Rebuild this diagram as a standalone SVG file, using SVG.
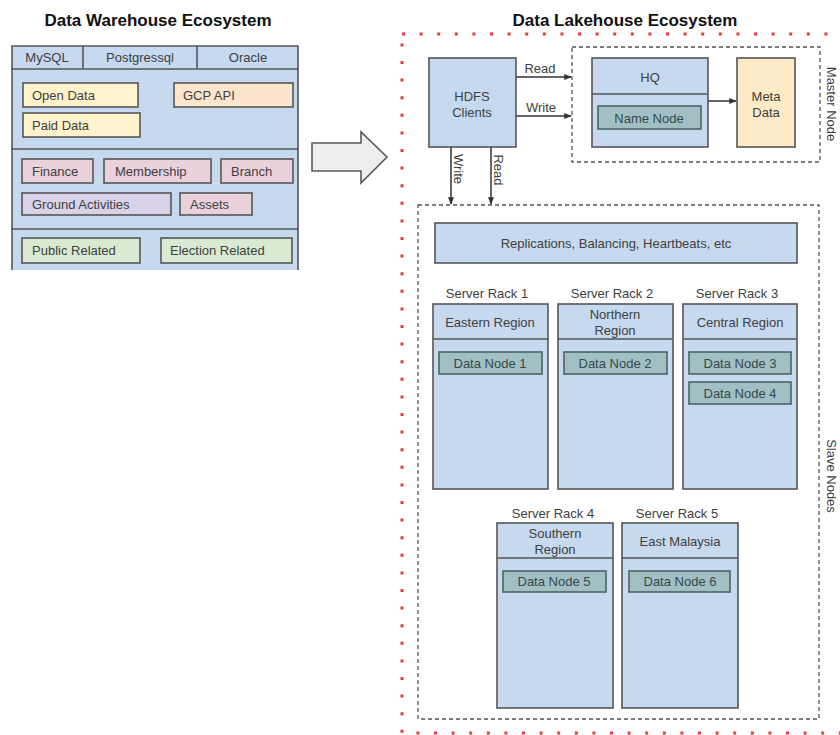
<svg xmlns="http://www.w3.org/2000/svg" width="840" height="735" viewBox="0 0 840 735">
  <style>
    text { font-family: "Liberation Sans", Arial, sans-serif; font-size: 13px; fill: #404040; text-anchor: middle; dominant-baseline: central; }
    .l { text-anchor: start; }
    .title { font-size: 17px; font-weight: bold; fill: #111; }
    .box { stroke: #555; stroke-width: 1.6; }
    .blue { fill: #c6d9ef; }
    .yellow { fill: #fff2cc; }
    .orange { fill: #fce5cd; }
    .pink { fill: #ead1dc; }
    .purple { fill: #d9d2e9; }
    .green { fill: #d9ead3; }
    .meta { fill: #fcebc6; }
    .dn { fill: #a2c0c3; stroke: #4a6466; stroke-width: 1.6; }
    .dn + text { fill: #34494b; }
    .div { stroke: #555; stroke-width: 1.6; fill: none; }
    .dash { fill: none; stroke: #555; stroke-width: 1.3; stroke-dasharray: 4 3; }
    .conn { stroke: #333; stroke-width: 1.5; fill: none; marker-end: url(#arr); }
  </style>
  <defs>
    <marker id="arr" viewBox="0 0 10 10" refX="9" refY="5" markerWidth="5" markerHeight="5" orient="auto">
      <path d="M0,1 L10,5 L0,9 z" fill="#333"/>
    </marker>
  </defs>
  <rect width="840" height="735" fill="#ffffff"/>

  <!-- Warehouse side -->
  <text class="title" x="158" y="20">Data Warehouse Ecosystem</text>
  <g id="warehouse">
    <rect class="blue" x="12" y="46" width="286" height="224"/>
    <path class="div" d="M12,270 V46 H298 V270"/>
    <path class="div" d="M12,69 H298 M83,46 V69 M197,46 V69 M12,149 H298 M12,229 H298"/>
    <text x="47" y="57">MySQL</text>
    <text x="140" y="57">Postgressql</text>
    <text x="248" y="57">Oracle</text>
  </g>
  <g id="open-data"><rect class="box yellow" x="23" y="83" width="115" height="24"/><text class="l" x="32" y="95">Open Data</text></g>
  <g id="gcp-api"><rect class="box orange" x="174" y="83" width="119" height="24"/><text class="l" x="183" y="95">GCP API</text></g>
  <g id="paid-data"><rect class="box yellow" x="23" y="113" width="117" height="24"/><text class="l" x="32" y="125">Paid Data</text></g>
  <g id="finance"><rect class="box pink" x="22" y="159" width="71" height="24"/><text class="l" x="32" y="171">Finance</text></g>
  <g id="membership"><rect class="box pink" x="104" y="159" width="107" height="24"/><text class="l" x="115" y="171">Membership</text></g>
  <g id="branch"><rect class="box pink" x="221" y="159" width="72" height="24"/><text class="l" x="231" y="171">Branch</text></g>
  <g id="ground-activities"><rect class="box purple" x="22" y="193" width="149" height="22"/><text class="l" x="32" y="204">Ground Activities</text></g>
  <g id="assets"><rect class="box pink" x="180" y="193" width="72" height="22"/><text class="l" x="190" y="204">Assets</text></g>
  <g id="public-related"><rect class="box green" x="22" y="238" width="118" height="25"/><text class="l" x="32" y="250">Public Related</text></g>
  <g id="election-related"><rect class="box green" x="161" y="238" width="131" height="25"/><text class="l" x="170" y="250">Election Related</text></g>

  <!-- Transition arrow -->
  <g id="transition">
    <path d="M312,143 H361 V132 L387,157 L361,183 V171 H312 z" fill="#eeeeee" stroke="#5a5a5a" stroke-width="1.6"/>
  </g>

  <!-- Lakehouse side -->
  <text class="title" x="625" y="20">Data Lakehouse Ecosystem</text>
  <g id="lakehouse">
    <rect x="402" y="34" width="460" height="699" fill="none" stroke="#e53c3c" stroke-width="3" stroke-dasharray="3 14.6"/>
  </g>

  <g id="master-node">
    <rect class="dash" x="572" y="47" width="248" height="115"/>
    <text transform="translate(831,104) rotate(90)">Master Node</text>
  </g>
  <g id="hdfs-clients">
    <rect class="box blue" x="429" y="58" width="87" height="89"/>
    <text x="472" y="96">HDFS</text>
    <text x="472" y="112">Clients</text>
  </g>
  <g id="hq">
    <rect class="box blue" x="592" y="58" width="116" height="89"/>
    <path class="div" d="M592,94 H708"/>
    <text x="650" y="77">HQ</text>
  </g>
  <g id="name-node"><rect class="dn" x="598" y="106" width="103" height="23"/><text x="649" y="118">Name Node</text></g>
  <g id="meta-data">
    <rect class="box meta" x="737" y="58" width="58" height="89"/>
    <text x="766" y="96">Meta</text>
    <text x="766" y="112">Data</text>
  </g>

  <g id="slave-nodes">
    <rect class="dash" x="418" y="205" width="401" height="514"/>
    <text transform="translate(831,476) rotate(90)">Slave Nodes</text>
  </g>
  <g id="replications"><rect class="box blue" x="435" y="223" width="362" height="40"/><text x="616" y="243">Replications, Balancing, Heartbeats, etc</text></g>

  <g id="rack-1">
    <text x="487" y="293">Server Rack 1</text>
    <rect class="box blue" x="433" y="304" width="115" height="185"/>
    <path class="div" d="M433,339 H548"/>
    <text x="490" y="322">Eastern Region</text>
    <rect class="dn" x="439" y="352" width="103" height="22"/><text x="490" y="363">Data Node 1</text>
  </g>
  <g id="rack-2">
    <text x="612" y="293">Server Rack 2</text>
    <rect class="box blue" x="558" y="304" width="115" height="185"/>
    <path class="div" d="M558,339 H673"/>
    <text x="615" y="314">Northern</text>
    <text x="615" y="330">Region</text>
    <rect class="dn" x="564" y="352" width="103" height="22"/><text x="615" y="363">Data Node 2</text>
  </g>
  <g id="rack-3">
    <text x="737" y="293">Server Rack 3</text>
    <rect class="box blue" x="683" y="304" width="114" height="185"/>
    <path class="div" d="M683,339 H797"/>
    <text x="740" y="322">Central Region</text>
    <rect class="dn" x="689" y="352" width="102" height="22"/><text x="740" y="363">Data Node 3</text>
    <rect class="dn" x="689" y="382" width="102" height="22"/><text x="740" y="393">Data Node 4</text>
  </g>
  <g id="rack-4">
    <text x="553" y="513">Server Rack 4</text>
    <rect class="box blue" x="497" y="523" width="116" height="185"/>
    <path class="div" d="M497,558 H613"/>
    <text x="555" y="533">Southern</text>
    <text x="555" y="549">Region</text>
    <rect class="dn" x="503" y="571" width="103" height="21"/><text x="554" y="581">Data Node 5</text>
  </g>
  <g id="rack-5">
    <text x="677" y="513">Server Rack 5</text>
    <rect class="box blue" x="622" y="523" width="116" height="185"/>
    <path class="div" d="M622,558 H738"/>
    <text x="680" y="541">East Malaysia</text>
    <rect class="dn" x="629" y="571" width="101" height="21"/><text x="680" y="581">Data Node 6</text>
  </g>

  <!-- Connectors -->
  <g id="connectors">
    <path class="conn" d="M516,77 H571"/>
    <text x="540" y="68">Read</text>
    <path class="conn" d="M516,116 H571"/>
    <text x="541" y="107">Write</text>
    <path class="conn" d="M708,101 H736"/>
    <path class="conn" d="M451,147 V204"/>
    <text transform="translate(458,169) rotate(90)">Write</text>
    <path class="conn" d="M491,147 V204"/>
    <text transform="translate(498,170) rotate(90)">Read</text>
  </g>
</svg>
